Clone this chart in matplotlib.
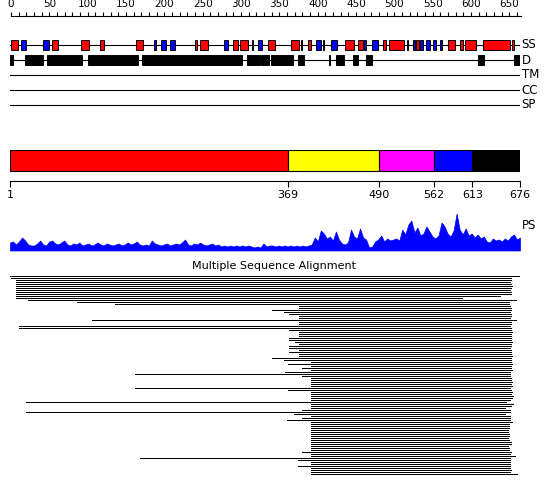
import numpy as np
import matplotlib
matplotlib.use("Agg")
import matplotlib.pyplot as plt

# ----------------------------------------------------------------------
# DATA (residue numbering, sequence length 676)
# ----------------------------------------------------------------------
SEQ_LEN = 676
RULER_MAX = 660

# secondary structure: helices (red) and strands (blue)
helix_start = [2, 57, 95, 120, 168, 246, 252, 296, 306, 343, 373, 396, 415, 445, 462,
               495, 503, 539, 581, 597, 603, 627, 665]
helix_end = [12, 65, 105, 125, 177, 249, 263, 303, 316, 352, 383, 399, 417, 456, 468,
             498, 523, 542, 590, 600, 618, 663, 668]
strand_start = [16, 45, 191, 201, 213, 284, 321, 329, 386, 406, 426, 469, 480, 526, 534,
                544, 552, 561, 570]
strand_end = [22, 52, 194, 208, 219, 290, 323, 335, 387, 412, 434, 472, 488, 528, 537,
              548, 557, 565, 573]

# disorder
dis_start = [1, 21, 50, 104, 176, 315, 333, 346, 382, 423, 433, 455, 472, 620, 668]
dis_end = [5, 45, 96, 171, 308, 332, 344, 375, 390, 424, 443, 462, 480, 628, 676]

track_names = ["SS", "D", "TM", "CC", "SP"]

# domain boundaries
dom_bounds = [1, 369, 490, 562, 613, 676]
dom_colors = ["#ff0000", "#ffff00", "#ff00ff", "#0000ff", "#000000"]

# PS profile (sampled along the sequence)
ps_values = [8, 9, 6, 9, 13, 10, 6, 5, 5, 7, 10, 6, 5, 9, 10, 7, 6, 8, 10, 6,
             5, 7, 6, 8, 5, 6, 7, 5, 6, 8, 6, 5, 7, 6, 5, 6, 7, 5, 6, 8,
             6, 7, 9, 6, 5, 6, 5, 10, 7, 6, 5, 6, 7, 5, 6, 7, 6, 8, 11, 6,
             5, 7, 6, 8, 6, 5, 6, 7, 5, 6, 4, 5, 4, 5, 4, 5, 4, 5, 4, 5,
             4, 3, 4, 3, 7, 4, 5, 5, 4, 5, 4, 5, 4, 5, 4, 5, 4, 5, 4, 5,
             6, 13, 9, 20, 17, 12, 14, 10, 19, 11, 7, 6, 8, 21, 14, 12, 22, 13, 11, 3,
             4, 9, 11, 15, 9, 12, 10, 11, 12, 10, 21, 16, 26, 30, 18, 23, 15, 17, 24, 19,
             14, 12, 15, 28, 24, 17, 14, 20, 37, 21, 16, 22, 15, 17, 13, 16, 12, 14, 9, 8,
             12, 10, 11, 9, 12, 10, 14, 16, 11, 13]

# multiple sequence alignment hits (start, end)
msa_start = [1, 2, 9, 9, 9, 9, 9, 9, 9, 9, 9, 9, 25, 90, 140, 383, 383, 348, 364, 370,
             383, 383, 110, 383, 383, 13, 13, 370, 383, 383, 383, 370, 370, 378, 383, 370, 370, 383, 370, 383,
             383, 348, 364, 399, 369, 399, 387, 399, 365, 166, 387, 399, 399, 399, 399, 399, 166, 369, 399, 399,
             399, 399, 399, 22, 399, 399, 399, 387, 22, 377, 399, 387, 368, 399, 399, 399, 399, 399, 399, 399,
             399, 399, 399, 399, 399, 399, 399, 399, 387, 399, 399, 173, 382, 399, 399, 382, 399, 399, 399, 399]
msa_end = [676, 664, 664, 663, 664, 665, 664, 663, 664, 664, 649, 599, 671, 661, 661, 663, 664, 664, 663, 664,
           664, 663, 671, 664, 664, 663, 664, 664, 665, 664, 664, 664, 664, 666, 664, 664, 663, 664, 664, 664,
           665, 664, 664, 664, 665, 664, 664, 665, 663, 663, 663, 664, 664, 665, 664, 665, 663, 664, 665, 664,
           667, 666, 663, 657, 667, 664, 656, 663, 663, 656, 663, 663, 663, 665, 661, 661, 662, 660, 660, 661,
           661, 660, 661, 664, 664, 660, 661, 661, 664, 663, 669, 663, 663, 663, 663, 663, 663, 664, 663, 672]

# ----------------------------------------------------------------------
# LAYOUT HELPERS
# ----------------------------------------------------------------------
W, H = 550, 495
fig = plt.figure(figsize=(W / 100, H / 100), dpi=100)
NARROW = ["Liberation Sans Narrow", "DejaVu Sans"]


def px_axes(x0, y0, x1, y1):
    ax = fig.add_axes([x0 / W, 1 - y1 / H, (x1 - x0) / W, (y1 - y0) / H])
    ax.patch.set_alpha(0)
    for s in ax.spines.values():
        s.set_visible(False)
    ax.set_xticks([])
    ax.set_yticks([])
    return ax


X0, X1 = 10, 520

# ----------------------------------------------------------------------
# RULER
# ----------------------------------------------------------------------
ax_r = px_axes(11, 11.5, 521, 15.5)
ax_r.set_xlim(0, 665)
ax_r.spines["bottom"].set_visible(True)
ax_r.spines["bottom"].set_linewidth(0.8)
ax_r.set_xticks(np.arange(0, RULER_MAX + 1, 10), minor=True)
ax_r.set_xticks(np.arange(0, RULER_MAX, 50))
ax_r.tick_params(axis="x", which="both", direction="in", length=3, width=0.8)
ax_r.tick_params(axis="x", which="major", labelbottom=False, labeltop=True, pad=1.5)
for lab in ax_r.get_xticklabels():
    lab.set_family(NARROW)
    lab.set_fontsize(7.5)

# ----------------------------------------------------------------------
# FEATURE TRACKS
# ----------------------------------------------------------------------
ax_t = px_axes(X0, 37.5, X1, 112.5)
ax_t.set_xlim(1, SEQ_LEN)
ax_t.set_ylim(len(track_names) - 0.5, -0.5)
for row in range(len(track_names)):
    ax_t.plot([1, SEQ_LEN], [row, row], color="black", lw=0.8, zorder=1)
    ax_t.text(1.003, row, track_names[row], transform=ax_t.get_yaxis_transform(),
              ha="left", va="center", fontsize=8.5, family=NARROW)

ss_h = 0.66
for s, e in zip(helix_start, helix_end):
    ax_t.add_patch(plt.Rectangle((s, -ss_h / 2), e - s, ss_h, facecolor="#ff0000",
                                 edgecolor="black", lw=0.7, zorder=2))
for s, e in zip(strand_start, strand_end):
    ax_t.add_patch(plt.Rectangle((s, -ss_h / 2), e - s, ss_h, facecolor="#0000ff",
                                 edgecolor="black", lw=0.7, zorder=2))
d_h = 0.72
for s, e in zip(dis_start, dis_end):
    ax_t.add_patch(plt.Rectangle((s, 1 - d_h / 2), e - s, d_h, facecolor="black",
                                 edgecolor="black", lw=0.7, zorder=2))

# ----------------------------------------------------------------------
# DOMAIN BAR
# ----------------------------------------------------------------------
ax_d = px_axes(X0, 150, X1, 181)
ax_d.set_xlim(1, SEQ_LEN)
ax_d.set_ylim(0, 31)
ax_d.barh(20.5, np.diff(dom_bounds), left=dom_bounds[:-1], height=21,
          color=dom_colors, edgecolor="black", linewidth=0.8)
ax_d.spines["bottom"].set_visible(True)
ax_d.spines["bottom"].set_linewidth(0.8)
ax_d.set_xticks(dom_bounds)
ax_d.set_xticklabels([str(b) for b in dom_bounds])
ax_d.tick_params(axis="x", direction="out", length=4.5, width=0.8, labelsize=8, pad=2)

# ----------------------------------------------------------------------
# PS PROFILE
# ----------------------------------------------------------------------
ax_p = px_axes(X0, 205, X1, 250.5)
ax_p.set_xlim(1, SEQ_LEN)
ax_p.set_ylim(0, 45.5)
ps_pos = np.linspace(1, SEQ_LEN, len(ps_values))
ax_p.fill_between(ps_pos, 0, ps_values, color="#0000ff", lw=0.5)
ax_p.text(1.003, 0.54, "PS", transform=ax_p.transAxes, ha="left", va="center",
          fontsize=8.5, family=NARROW)

# ----------------------------------------------------------------------
# MULTIPLE SEQUENCE ALIGNMENT
# ----------------------------------------------------------------------
fig.text(274 / W, 1 - 266 / H, "Multiple Sequence Alignment", ha="center", va="center",
         fontsize=8)
ax_m = px_axes(X0, 274.7, X1, 474.7)
ax_m.set_xlim(1, SEQ_LEN)
ax_m.set_ylim(len(msa_start) - 0.5, -0.5)
ax_m.hlines(np.arange(len(msa_start)), msa_start, msa_end, color="black", lw=0.6,
            antialiased=False)

fig.savefig("out.png", dpi=100)
